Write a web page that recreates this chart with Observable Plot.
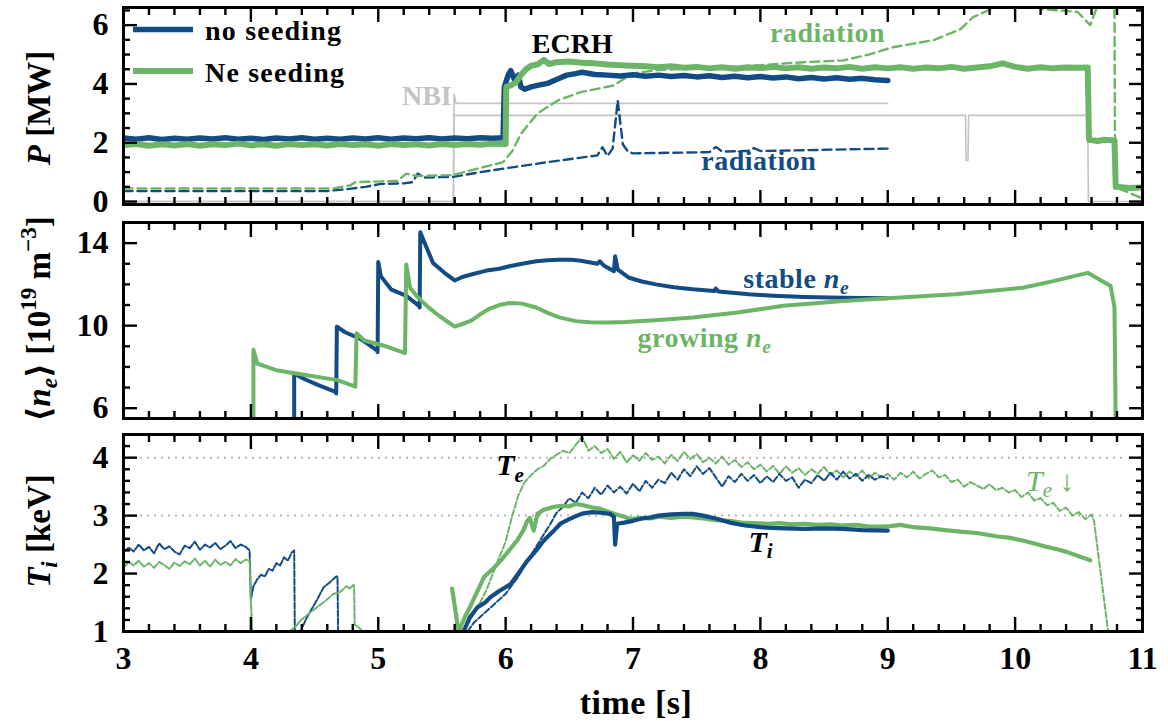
<!DOCTYPE html>
<html><head><meta charset="utf-8">
<script src="https://cdn.jsdelivr.net/npm/d3@7"></script>
<script src="https://cdn.jsdelivr.net/npm/@observablehq/plot@0.6"></script>
<style>
body{margin:0;background:#fff;}
#chart{width:1168px;height:721px;position:relative;overflow:hidden;background:#fff;}
#chart svg{position:absolute;left:0;overflow:visible;background:transparent;}
#chart [aria-label$="tick label"]{font-size:32px;font-weight:bold;font-family:'Liberation Serif','Times New Roman',serif;}
</style></head><body><div id="chart"></div>
<script>
// ---------- tick values ----------
const xMajor = [3,4,5,6,7,8,9,10,11];
const pMajor = [0,2,4,6];
const neMajor = [6,10,14];
const tMajor = [1,2,3,4];

// ---------- P [MW] panel ----------
const ecrhNoSeed = [[3.0,2.16],[3.1,2.12],[3.2,2.17],[3.3,2.11],[3.4,2.15],[3.5,2.12],[3.6,2.16],[3.7,2.13],[3.8,2.17],[3.9,2.12],[4.0,2.15],[4.1,2.11],[4.2,2.16],[4.3,2.13],[4.4,2.17],[4.5,2.12],[4.6,2.15],[4.7,2.12],[4.8,2.16],[4.9,2.13],[5.0,2.17],[5.1,2.12],[5.2,2.16],[5.3,2.14],[5.4,2.17],[5.5,2.13],[5.6,2.16],[5.7,2.14],[5.8,2.17],[5.9,2.15],[5.98,2.17],[5.99,3.9],[6.02,4.3],[6.04,4.45],[6.07,4.15],[6.1,4.3],[6.12,3.9],[6.15,3.82],[6.2,3.9],[6.25,3.95],[6.33,4.02],[6.4,4.15],[6.48,4.3],[6.55,4.35],[6.6,4.4],[6.7,4.32],[6.8,4.3],[6.9,4.27],[7.0,4.31],[7.1,4.26],[7.2,4.3],[7.3,4.25],[7.4,4.29],[7.5,4.24],[7.6,4.28],[7.7,4.22],[7.8,4.26],[7.9,4.21],[8.0,4.25],[8.1,4.2],[8.2,4.24],[8.3,4.18],[8.4,4.22],[8.5,4.17],[8.6,4.21],[8.7,4.16],[8.8,4.19],[8.9,4.14],[9.0,4.12]];
const ecrhNe = [[3.0,1.92],[3.1,1.96],[3.2,1.90],[3.3,1.95],[3.4,1.91],[3.5,1.96],[3.6,1.90],[3.7,1.95],[3.8,1.92],[3.9,1.97],[4.0,1.91],[4.1,1.95],[4.2,1.90],[4.3,1.96],[4.4,1.92],[4.5,1.95],[4.6,1.91],[4.7,1.96],[4.8,1.92],[4.9,1.95],[5.0,1.90],[5.1,1.96],[5.2,1.92],[5.3,1.95],[5.4,1.91],[5.5,1.96],[5.6,1.92],[5.7,1.96],[5.8,1.93],[5.9,1.97],[6.0,1.96],[6.005,3.9],[6.04,3.95],[6.08,4.05],[6.12,4.3],[6.16,4.5],[6.2,4.62],[6.25,4.66],[6.3,4.82],[6.34,4.68],[6.4,4.74],[6.5,4.76],[6.6,4.72],[6.7,4.7],[6.8,4.66],[6.9,4.64],[7.0,4.62],[7.1,4.6],[7.2,4.57],[7.3,4.6],[7.4,4.55],[7.5,4.58],[7.6,4.53],[7.7,4.57],[7.8,4.52],[7.9,4.56],[8.0,4.54],[8.1,4.58],[8.2,4.53],[8.3,4.57],[8.4,4.52],[8.5,4.56],[8.6,4.53],[8.7,4.58],[8.8,4.52],[8.9,4.57],[9.0,4.53],[9.1,4.57],[9.2,4.52],[9.3,4.56],[9.4,4.53],[9.5,4.58],[9.6,4.52],[9.7,4.56],[9.8,4.6],[9.9,4.7],[10.0,4.58],[10.1,4.52],[10.2,4.57],[10.3,4.53],[10.4,4.56],[10.5,4.55],[10.57,4.56],[10.58,2.1],[10.65,2.06],[10.7,2.1],[10.78,2.08],[10.79,0.5],[10.9,0.46],[11.0,0.48]];
const radNoSeed = [[3.0,0.36],[4.6,0.36],[4.75,0.42],[4.9,0.5],[5.02,0.6],[5.2,0.62],[5.27,0.66],[5.31,0.95],[5.36,0.82],[5.59,0.84],[5.8,1.0],[5.98,1.12],[6.33,1.34],[6.72,1.57],[6.76,1.85],[6.8,1.55],[6.84,1.8],[6.88,3.44],[6.92,1.95],[6.96,1.7],[7.0,1.64],[7.3,1.66],[7.6,1.68],[7.65,1.86],[7.7,1.7],[7.9,1.72],[7.95,1.82],[8.0,1.72],[8.5,1.76],[9.0,1.8]];
const radNe = [[3.0,0.45],[4.65,0.45],[4.78,0.55],[4.82,0.66],[5.15,0.7],[5.22,0.95],[5.3,0.87],[5.58,0.9],[5.98,1.34],[6.05,1.7],[6.12,2.3],[6.25,3.0],[6.41,3.44],[6.59,3.72],[6.85,3.95],[6.92,4.15],[7.0,4.36],[7.19,4.47],[7.6,4.55],[8.0,4.64],[8.34,4.74],[8.65,4.8],[8.85,5.0],[9.04,5.25],[9.36,5.49],[9.57,5.86],[9.67,6.27],[9.83,6.58],[9.95,6.8],[10.1,6.8],[10.2,6.55],[10.49,6.45],[10.59,6.0],[10.65,6.7],[10.78,6.9],[10.785,0.5],[10.98,0.14]];
const nbiNoSeed = [[3.0,0],[5.59,0],[5.595,3.65],[5.61,3.34],[9.0,3.34]];
const nbiNe = [[3.0,0],[5.59,0],[5.595,2.93],[9.61,2.93],[9.615,1.4],[9.63,1.4],[9.635,2.93],[10.57,2.93],[10.575,0],[11.0,0]];

// ---------- <n_e> panel ----------
const neNoSeed = [[4.34,5.0],[4.34,7.68],[4.41,7.44],[4.53,7.12],[4.66,6.8],[4.67,6.72],[4.675,9.95],[4.74,9.68],[4.86,9.36],[4.99,8.8],[4.995,8.72],[5.0,13.09],[5.02,12.4],[5.1,11.76],[5.22,11.44],[5.32,10.96],[5.325,10.88],[5.33,14.53],[5.37,13.92],[5.43,13.04],[5.52,12.56],[5.6,12.19],[5.66,12.36],[5.73,12.48],[5.85,12.67],[5.95,12.76],[6.03,12.88],[6.13,13.0],[6.24,13.12],[6.33,13.17],[6.42,13.2],[6.52,13.19],[6.59,13.15],[6.72,13.0],[6.74,13.12],[6.77,12.92],[6.85,12.64],[6.86,13.36],[6.88,12.72],[6.97,12.32],[7.07,12.14],[7.18,12.0],[7.32,11.86],[7.47,11.76],[7.64,11.68],[7.65,11.8],[7.67,11.66],[7.91,11.52],[8.1,11.45],[8.35,11.39],[8.65,11.35],[9.0,11.33]];
const neNe = [[4.02,5.0],[4.02,8.83],[4.05,8.16],[4.2,7.84],[4.44,7.6],[4.68,7.36],[4.82,7.04],[4.83,9.63],[4.89,9.28],[5.04,9.04],[5.21,8.67],[5.22,12.96],[5.25,11.84],[5.3,11.45],[5.34,11.2],[5.4,10.86],[5.46,10.56],[5.53,10.25],[5.6,9.95],[5.66,10.08],[5.73,10.24],[5.8,10.55],[5.88,10.84],[5.95,11.0],[6.03,11.1],[6.12,11.08],[6.24,10.88],[6.33,10.62],[6.42,10.4],[6.55,10.22],[6.66,10.16],[6.8,10.15],[6.94,10.18],[7.2,10.28],[7.47,10.4],[7.82,10.64],[8.18,10.96],[8.65,11.2],[9.0,11.33],[9.53,11.52],[10.06,11.84],[10.3,12.16],[10.57,12.56],[10.75,11.92],[10.78,10.88],[10.79,5.0]];

// ---------- T [keV] panel ----------
const teNoSeedEarly = [[3.00,2.36],[3.04,2.45],[3.08,2.38],[3.12,2.50],[3.16,2.40],[3.20,2.46],[3.24,2.35],[3.28,2.52],[3.32,2.42],[3.36,2.47],[3.40,2.38],[3.44,2.33],[3.48,2.48],[3.52,2.44],[3.56,2.55],[3.60,2.41],[3.64,2.50],[3.68,2.45],[3.72,2.53],[3.76,2.42],[3.80,2.48],[3.84,2.56],[3.88,2.44],[3.92,2.50],[3.96,2.46],[3.99,2.40],[4.00,1.55],[4.02,1.78],[4.05,1.90],[4.08,1.98],[4.11,1.95],[4.14,2.08],[4.17,2.05],[4.20,2.18],[4.23,2.14],[4.26,2.28],[4.29,2.22],[4.32,2.36],[4.34,2.40],[4.345,1.0],[4.39,1.0],[4.43,1.2],[4.47,1.36],[4.52,1.55],[4.57,1.76],[4.62,1.85],[4.67,1.95],[4.68,1.95],[4.685,1.0],[4.72,1.0]];
const teNeEarly = [[3.00,2.10],[3.04,2.20],[3.08,2.14],[3.12,2.22],[3.16,2.12],[3.20,2.18],[3.24,2.10],[3.28,2.20],[3.32,2.15],[3.36,2.08],[3.40,2.19],[3.44,2.13],[3.48,2.21],[3.52,2.16],[3.56,2.26],[3.60,2.14],[3.64,2.22],[3.68,2.12],[3.72,2.24],[3.76,2.15],[3.80,2.20],[3.84,2.14],[3.88,2.25],[3.92,2.18],[3.96,2.24],[3.99,2.22],[4.00,1.55],[4.01,1.0],[4.30,1.0],[4.35,1.08],[4.39,1.19],[4.45,1.30],[4.52,1.42],[4.58,1.52],[4.65,1.65],[4.70,1.68],[4.75,1.78],[4.78,1.74],[4.80,1.80],[4.81,1.80],[4.815,1.12],[4.84,1.08],[4.88,1.0]];
const teNoSeed = [[5.70,1.00],[5.75,1.15],[5.80,1.25],[5.85,1.35],[5.90,1.45],[5.95,1.55],[6.00,1.65],[6.05,1.80],[6.10,1.95],[6.15,2.15],[6.20,2.32],[6.25,2.50],[6.30,2.68],[6.35,2.85],[6.40,3.05],[6.45,3.15],[6.50,3.30],[6.55,3.22],[6.60,3.40],[6.65,3.30],[6.70,3.48],[6.75,3.36],[6.80,3.52],[6.85,3.40],[6.90,3.50],[6.95,3.38],[7.00,3.55],[7.05,3.42],[7.10,3.60],[7.15,3.48],[7.20,3.62],[7.25,3.56],[7.30,3.74],[7.35,3.62],[7.40,3.80],[7.45,3.68],[7.50,3.85],[7.55,3.72],[7.60,3.82],[7.65,3.66],[7.70,3.50],[7.75,3.68],[7.80,3.58],[7.85,3.72],[7.90,3.60],[7.95,3.70],[8.00,3.56],[8.05,3.68],[8.10,3.58],[8.15,3.72],[8.20,3.60],[8.25,3.66],[8.30,3.48],[8.35,3.62],[8.40,3.56],[8.45,3.70],[8.50,3.60],[8.55,3.74],[8.60,3.62],[8.65,3.76],[8.70,3.64],[8.75,3.72],[8.80,3.60],[8.85,3.70],[8.90,3.62],[8.95,3.68],[9.00,3.64]];
const teNe = [[5.65,1.00],[5.70,1.12],[5.75,1.30],[5.80,1.50],[5.85,1.72],[5.90,2.00],[5.95,2.28],[6.00,2.55],[6.05,2.98],[6.10,3.35],[6.15,3.58],[6.20,3.70],[6.25,3.80],[6.30,3.86],[6.35,3.98],[6.40,4.05],[6.45,4.12],[6.50,4.08],[6.55,4.22],[6.60,4.36],[6.65,4.12],[6.70,4.20],[6.75,4.08],[6.80,4.15],[6.85,3.98],[6.90,4.10],[6.95,3.92],[7.00,4.04],[7.05,3.95],[7.10,4.08],[7.15,3.96],[7.20,4.02],[7.25,3.90],[7.30,4.05],[7.35,3.94],[7.40,4.10],[7.45,3.98],[7.50,4.06],[7.55,3.92],[7.60,4.00],[7.65,3.90],[7.70,4.02],[7.75,3.88],[7.80,3.96],[7.85,3.84],[7.90,3.92],[7.95,3.80],[8.00,3.88],[8.05,3.76],[8.10,3.86],[8.15,3.72],[8.20,3.85],[8.25,3.74],[8.30,3.82],[8.35,3.70],[8.40,3.80],[8.45,3.72],[8.50,3.84],[8.55,3.70],[8.60,3.78],[8.65,3.66],[8.70,3.76],[8.75,3.68],[8.80,3.78],[8.85,3.64],[8.90,3.74],[8.95,3.66],[9.00,3.72],[9.05,3.62],[9.10,3.74],[9.15,3.66],[9.20,3.76],[9.25,3.64],[9.30,3.72],[9.35,3.78],[9.40,3.66],[9.45,3.70],[9.50,3.58],[9.55,3.62],[9.60,3.50],[9.65,3.58],[9.70,3.52],[9.75,3.46],[9.80,3.54],[9.85,3.44],[9.90,3.48],[9.95,3.40],[10.00,3.44],[10.05,3.32],[10.10,3.40],[10.15,3.26],[10.20,3.30],[10.25,3.18],[10.30,3.22],[10.35,3.08],[10.40,3.14],[10.45,3.00],[10.50,3.06],[10.55,2.94],[10.60,3.02],[10.62,2.90],[10.73,1.0]];
const tiNoSeed = [[5.67,1.0],[5.72,1.25],[5.78,1.42],[5.84,1.5],[5.88,1.59],[5.95,1.7],[6.04,1.82],[6.1,2.0],[6.17,2.22],[6.24,2.4],[6.3,2.57],[6.37,2.72],[6.43,2.86],[6.5,2.94],[6.56,3.0],[6.61,3.04],[6.68,3.06],[6.75,3.05],[6.82,3.03],[6.85,2.98],[6.86,2.5],[6.875,2.86],[6.93,2.88],[7.0,2.91],[7.07,2.95],[7.14,2.97],[7.2,3.0],[7.3,3.02],[7.4,3.03],[7.47,3.03],[7.55,3.0],[7.65,2.95],[7.76,2.88],[7.88,2.83],[8.0,2.8],[8.1,2.79],[8.2,2.78],[8.35,2.77],[8.5,2.78],[8.65,2.77],[8.8,2.75],[9.0,2.74]];
const tiNe = [[5.58,1.74],[5.63,1.0],[5.68,1.25],[5.72,1.42],[5.78,1.7],[5.83,1.94],[5.9,2.08],[5.96,2.22],[6.02,2.38],[6.09,2.57],[6.14,2.75],[6.17,2.91],[6.19,2.96],[6.22,2.74],[6.25,3.03],[6.3,3.1],[6.36,3.14],[6.43,3.17],[6.5,3.16],[6.55,3.2],[6.61,3.18],[6.68,3.14],[6.74,3.12],[6.8,3.07],[6.87,3.02],[6.93,2.98],[6.98,2.94],[7.05,2.96],[7.14,2.95],[7.2,2.98],[7.3,2.96],[7.4,2.98],[7.47,2.97],[7.55,2.95],[7.65,2.92],[7.76,2.91],[7.85,2.88],[7.95,2.87],[8.06,2.86],[8.15,2.87],[8.25,2.85],[8.35,2.86],[8.45,2.84],[8.55,2.85],[8.65,2.83],[8.75,2.84],[8.85,2.81],[8.94,2.81],[9.02,2.82],[9.1,2.84],[9.2,2.8],[9.33,2.78],[9.45,2.75],[9.59,2.72],[9.7,2.7],[9.86,2.64],[9.95,2.62],[10.06,2.57],[10.15,2.52],[10.25,2.46],[10.33,2.42],[10.41,2.37],[10.5,2.3],[10.59,2.23]];

// ---------- styling ----------
const W = 1168, mL = 123, mR = 26;
const FONT = "'Liberation Serif','Times New Roman','DejaVu Serif',serif";
const BLUE = "#134c84", GREEN = "#6cb567", GRAY = "#c4c4c4";
const isMinor = v => Math.abs(v - Math.round(v)) > 1e-6;
const xMinor = d3.range(3, 11.001, 0.2).filter(isMinor);
const pMinor = d3.range(0.5, 6.6, 0.5).filter(v => v % 2 !== 0);
const neMinor = [7,8,9,11,12,13];
const tMinor = d3.range(1.2, 4.35, 0.2).filter(isMinor);

const chart = document.getElementById("chart");
const X = d => d[0], Y = d => d[1];
const line = (data, o) => Plot.line(data, {x: X, y: Y, clip: true, ...o});
const fmt = d3.format("d");

function panel({yDomain, yMajor, yMinor, height, top, marginTop, marginBottom, marks, xLabels}) {
  const tk = {stroke: "#000", strokeWidth: 2.4, fill: "none", label: null};
  const txt = {stroke: "none", fill: "#000", label: null, tickFormat: fmt, fontSize: 32, fontWeight: "bold", fontFamily: FONT};
  const m = [
    ...marks,
    Plot.frame({stroke: "#000", strokeWidth: 3}),
    Plot.axisX(xMajor, {anchor: "bottom", tickSize: 14, dy: -14, ...tk}),
    Plot.axisX(xMinor, {anchor: "bottom", tickSize: 7, dy: -7, ...tk}),
    Plot.axisX(xMajor, {anchor: "top", tickSize: 14, dy: 14, ...tk}),
    Plot.axisX(xMinor, {anchor: "top", tickSize: 7, dy: 7, ...tk}),
    Plot.axisY(yMajor, {anchor: "left", tickSize: 14, dx: 14, ...tk}),
    Plot.axisY(yMinor, {anchor: "left", tickSize: 7, dx: 7, ...tk}),
    Plot.axisY(yMajor, {anchor: "right", tickSize: 14, dx: -14, ...tk}),
    Plot.axisY(yMinor, {anchor: "right", tickSize: 7, dx: -7, ...tk}),
    Plot.axisY(yMajor, {anchor: "left", tickSize: 0, tickPadding: 15, ...txt})
  ];
  if (xLabels) m.push(Plot.axisX(xMajor, {anchor: "bottom", tickSize: 0, tickPadding: 15, ...txt}));
  const p = Plot.plot({
    width: W, height, marginLeft: mL, marginRight: mR, marginTop, marginBottom,
    x: {domain: [3, 11]}, y: {domain: yDomain},
    style: {background: "transparent", overflow: "visible", fontFamily: FONT},
    marks: m
  });
  p.style.top = top + "px";
  chart.appendChild(p);
  return p;
}

function rich(sel, x, y, parts, o = {}) {
  const size = o.size || 28;
  const t = sel.append("text").attr("x", x).attr("y", y)
    .attr("fill", o.fill || "#000").attr("font-size", size)
    .attr("font-weight", o.weight || "bold").attr("font-family", FONT)
    .attr("text-anchor", o.anchor || "start");
  if (o.spacing) t.attr("letter-spacing", o.spacing);
  if (o.rotate) t.attr("transform", `rotate(${o.rotate},${x},${y})`);
  let shift = 0;
  for (const p of parts) {
    const s = typeof p === "string" ? {t: p} : p;
    const target = s.sub ? 0.22 : s.sup ? -0.42 : 0;
    const ts = t.append("tspan").text(s.t);
    const dy = (target - shift) * size;
    if (dy) ts.attr("dy", dy.toFixed(2));
    shift = target;
    if (s.sub || s.sup) ts.attr("font-size", size * 0.7);
    if (s.i) ts.attr("font-style", "italic");
  }
  return t;
}
function annot(p, tx, vy, parts, o) {
  const sx = p.scale("x"), sy = p.scale("y");
  rich(d3.select(p), sx.apply(tx), sy.apply(vy), parts, o);
}

// ---------- panel 1: power ----------
const p1 = panel({
  yDomain: [-0.1, 6.6], yMajor: pMajor, yMinor: pMinor, height: 214, top: 0, marginTop: 7, marginBottom: 10,
  marks: [
    line(nbiNoSeed, {stroke: GRAY, strokeWidth: 1.6}),
    line(nbiNe, {stroke: GRAY, strokeWidth: 1.6}),
    line(radNoSeed, {stroke: BLUE, strokeWidth: 2.4, strokeDasharray: "9,5"}),
    line(radNe, {stroke: GREEN, strokeWidth: 2.4, strokeDasharray: "9,5"}),
    line(ecrhNoSeed, {stroke: BLUE, strokeWidth: 5.5}),
    line(ecrhNe, {stroke: GREEN, strokeWidth: 6})
  ]
});
annot(p1, 6.21, 5.05, ["ECRH"], {});
annot(p1, 5.19, 3.27, ["NBI"], {fill: GRAY});
annot(p1, 8.08, 5.4, ["radiation"], {fill: GREEN, spacing: 0.5});
annot(p1, 7.54, 1.06, ["radiation"], {fill: BLUE, spacing: 0.5});
{
  const s = d3.select(p1);
  s.append("line").attr("x1", 133).attr("x2", 193).attr("y1", 29.5).attr("y2", 29.5).attr("stroke", BLUE).attr("stroke-width", 5.5);
  s.append("line").attr("x1", 133).attr("x2", 193).attr("y1", 71).attr("y2", 71).attr("stroke", GREEN).attr("stroke-width", 6);
  rich(s, 205, 39.5, ["no seeding"], {spacing: 1.2});
  rich(s, 205, 81.5, ["Ne seeding"], {spacing: 1.2});
}

// ---------- panel 2: density ----------
const p2 = panel({
  yDomain: [5.5, 15], yMajor: neMajor, yMinor: neMinor, height: 214, top: 214, marginTop: 8, marginBottom: 10,
  marks: [
    line(neNoSeed, {stroke: BLUE, strokeWidth: 4}),
    line(neNe, {stroke: GREEN, strokeWidth: 4})
  ]
});
annot(p2, 7.87, 11.82, ["stable ", {t: "n", i: true}, {t: "e", i: true, sub: true}], {fill: BLUE, spacing: 0.5});
annot(p2, 7.04, 8.94, ["growing ", {t: "n", i: true}, {t: "e", i: true, sub: true}], {fill: GREEN, spacing: 0.5});

// ---------- panel 3: temperatures ----------
const p3 = panel({
  yDomain: [1, 4.4], yMajor: tMajor, yMinor: tMinor, height: 293, top: 428, marginTop: 6, marginBottom: 90, xLabels: true,
  marks: [
    Plot.ruleY([3, 4], {stroke: "#b4b4b4", strokeWidth: 2, strokeDasharray: "2,5", insetLeft: 17, insetRight: 17}),
    line(teNoSeedEarly, {stroke: BLUE, strokeWidth: 2, strokeDasharray: "6,2"}),
    line(teNeEarly, {stroke: GREEN, strokeWidth: 2, strokeDasharray: "6,2"}),
    line(teNe, {stroke: GREEN, strokeWidth: 2, strokeDasharray: "6,2.5"}),
    line(teNoSeed, {stroke: BLUE, strokeWidth: 2, strokeDasharray: "6,2.5"}),
    line(tiNe, {stroke: GREEN, strokeWidth: 4.2}),
    line(tiNoSeed, {stroke: BLUE, strokeWidth: 4.2})
  ]
});
annot(p3, 5.93, 3.69, [{t: "T", i: true}, {t: "e", i: true, sub: true}], {size: 30});
annot(p3, 7.91, 2.37, [{t: "T", i: true}, {t: "i", i: true, sub: true}], {size: 30});
annot(p3, 10.09, 3.42, [{t: "T", i: true}, {t: "e", i: true, sub: true}, " \u2193"], {fill: GREEN, weight: "normal", size: 30});

// ---------- overlay: axis titles ----------
const ov = d3.select(chart).append("svg").attr("width", W).attr("height", 721).style("top", "0px").style("pointer-events", "none");
rich(ov, 50, 108, [{t: "P", i: true}, " [MW]"], {size: 33, anchor: "middle", rotate: -90});
rich(ov, 50, 319, ["\u27E8", {t: "n", i: true}, {t: "e", i: true, sub: true}, "\u27E9 [10", {t: "19", sup: true}, " m", {t: "\u22123", sup: true}, "]"], {size: 33, anchor: "middle", rotate: -90});
rich(ov, 50, 531, [{t: "T", i: true}, {t: "i", i: true, sub: true}, " [keV]"], {size: 33, anchor: "middle", rotate: -90});
rich(ov, 636, 714, ["time [s]"], {size: 34, anchor: "middle", spacing: 0.5});
</script></body></html>
